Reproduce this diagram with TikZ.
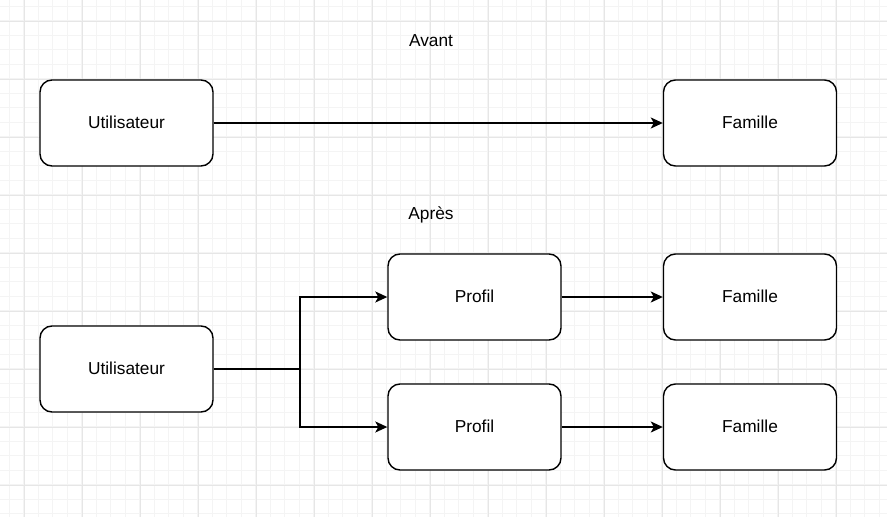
\documentclass[tikz,border=0pt]{standalone}
\usepackage{fontspec}
\setmainfont{Liberation Sans}
\usetikzlibrary{arrows.meta}
\definecolor{gridminor}{RGB}{244,244,244}
\definecolor{gridmajor}{RGB}{230,230,230}
\begin{document}
\begin{tikzpicture}[x=1pt,y=-1pt,
  box/.style={draw=black,line width=1.4pt,rounded corners=12pt,minimum width=173pt,minimum height=86pt,inner sep=0pt,fill=white,font=\fontsize{17.3}{20}\selectfont},
  lbl/.style={font=\fontsize{17.3}{20}\selectfont},
  conn/.style={draw=black,line width=1.4pt,-{Stealth[length=12pt,width=11pt,inset=3pt]}},
  wire/.style={draw=black,line width=1.4pt}]
\useasboundingbox (0,0) rectangle (887,517);
\fill[white] (0,0) rectangle (887,517);
% grid minor
\foreach \i in {0,...,61} {\draw[gridminor,line width=0.8pt] ({9.3+14.5*\i},0) -- ({9.3+14.5*\i},517);}
\foreach \i in {0,...,35} {\draw[gridminor,line width=0.8pt] (0,{6+14.5*\i}) -- (887,{6+14.5*\i});}
% grid major
\foreach \i in {0,...,15} {\draw[gridmajor,line width=0.8pt] ({24.3+58*\i},0) -- ({24.3+58*\i},517);}
\foreach \i in {0,...,8} {\draw[gridmajor,line width=0.8pt] (0,{21+58*\i}) -- (887,{21+58*\i});}

\node[lbl] (avant) at (431,41) {Avant};
\node[lbl] (apres) at (431,215) {Après};

\node[box] (u1) at (126.5,123) {\raisebox{2pt}{Utilisateur}};
\node[box] (f1) at (750,123) {\raisebox{2pt}{Famille}};

\node[box] (u2) at (126.5,369) {\raisebox{2pt}{Utilisateur}};
\node[box] (p1) at (474.5,297) {\raisebox{2pt}{Profil}};
\node[box] (p2) at (474.5,427) {\raisebox{2pt}{Profil}};
\node[box] (f2) at (750,297) {\raisebox{2pt}{Famille}};
\node[box] (f3) at (750,427) {\raisebox{2pt}{Famille}};

\draw[conn] (u1) -- (f1);
\coordinate (j) at (300,369);
\draw[wire] (u2.east) -- (j);
\draw[conn] (j) |- (p1.west);
\draw[conn] (j) |- (p2.west);
\draw[conn] (p1) -- (f2);
\draw[conn] (p2) -- (f3);
\end{tikzpicture}
\end{document}
